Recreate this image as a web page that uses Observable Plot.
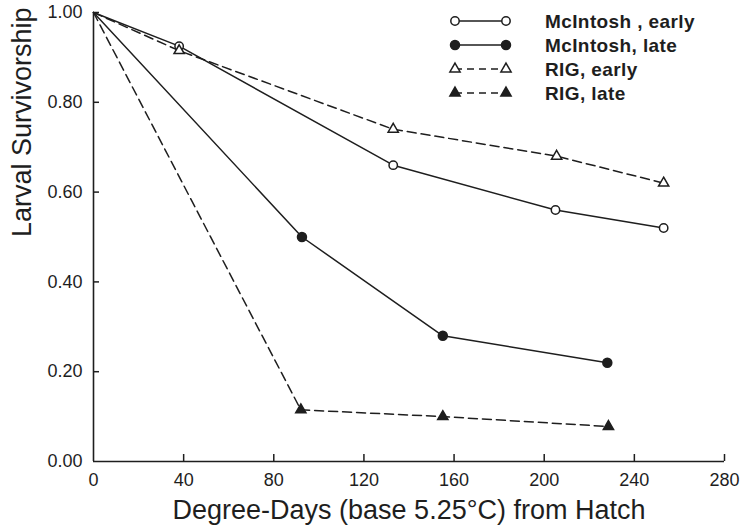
<!DOCTYPE html>
<html><head><meta charset="utf-8">
<script src="https://cdn.jsdelivr.net/npm/d3@7"></script>
<script src="https://cdn.jsdelivr.net/npm/@observablehq/plot@0.6"></script>
<style>
body{margin:0;background:#fff;}
#wrap{position:relative;width:742px;height:530px;}
#wrap svg{position:absolute;left:0;top:0;}
</style></head><body><div id="wrap"></div>
<script>
// ---- data ----
const seriesNames = ["McIntosh , early", "McIntosh, late", "RIG, early", "RIG, late"];
const mcEarlyX = [0, 38, 133, 205, 253];
const mcEarlyY = [1.00, 0.925, 0.66, 0.56, 0.52];
const mcLateX = [0, 92.5, 155, 228];
const mcLateY = [1.00, 0.50, 0.28, 0.22];
const rigEarlyX = [0, 38, 133, 205.5, 253];
const rigEarlyY = [1.00, 0.915, 0.74, 0.68, 0.62];
const rigLateX = [0, 92, 155, 228.5];
const rigLateY = [1.00, 0.115, 0.10, 0.078];
const xTicks = [0, 40, 80, 120, 160, 200, 240, 280];
const yTicks = [0.00, 0.20, 0.40, 0.60, 0.80, 1.00];
const xTitle = "Degree-Days (base 5.25°C) from Hatch";
const yTitle = "Larval Survivorship";

// ---- styles ----
const ink = "#1e1e1e";
const seriesStyle = [
  {symbol: "circle", fill: "white", dash: null, r: 4.2},
  {symbol: "circle", fill: ink, dash: null, r: 4.5},
  {symbol: "triangle", fill: "white", dash: "9,5", r: 3.8},
  {symbol: "triangle", fill: ink, dash: "9,5", r: 3.8}
];
const xs = [mcEarlyX, mcLateX, rigEarlyX, rigLateX];
const ys = [mcEarlyY, mcLateY, rigEarlyY, rigLateY];
const rows = seriesNames.flatMap((s, i) => xs[i].map((x, j) => ({series: s, idx: i, x, y: ys[i][j]})));

const lineMarks = seriesNames.map((s, i) => Plot.line(rows.filter(d => d.idx === i), {
  x: "x", y: "y", stroke: ink, strokeWidth: 1.5,
  strokeDasharray: seriesStyle[i].dash || undefined
}));
const dotMarks = seriesNames.map((s, i) => Plot.dot(rows.filter(d => d.idx === i && d.x > 0), {
  x: "x", y: "y", symbol: seriesStyle[i].symbol, r: seriesStyle[i].r,
  fill: seriesStyle[i].fill, stroke: ink, strokeWidth: 1.5
}));

const chart = Plot.plot({
  width: 742, height: 530,
  marginLeft: 93, marginRight: 18, marginTop: 12, marginBottom: 69,
  style: {fontFamily: "'Liberation Sans', Arial, sans-serif", background: "white", color: ink},
  x: {domain: [0, 280]},
  y: {domain: [0, 1]},
  marks: [
    Plot.ruleX([0], {stroke: ink, strokeWidth: 1.6}),
    Plot.ruleY([0], {stroke: ink, strokeWidth: 1.6}),
    Plot.ruleX(xTicks.filter(d => d > 0), {x: d => d, y1: 0, y2: 0, insetBottom: 7, stroke: ink, strokeWidth: 1.5}),
    Plot.ruleY(yTicks.filter(d => d > 0), {y: d => d, x1: 0, x2: 0, insetRight: -6, stroke: ink, strokeWidth: 1.5}),
    Plot.axisX(xTicks, {tickSize: 0, tickPadding: 12, fontSize: 18, label: null, fill: ink}),
    Plot.axisY(yTicks, {tickSize: 0, tickPadding: 11, fontSize: 18, label: null, tickFormat: d3.format(".2f"), fill: ink}),
    Plot.text([xTitle], {frameAnchor: "bottom", dy: 57, fontSize: 27, fill: ink, text: d => d}),
    Plot.text([yTitle], {frameAnchor: "left", dx: -71, rotate: -90, fontSize: 27, fill: ink, text: d => d}),
    ...lineMarks,
    ...dotMarks
  ]
});
document.getElementById("wrap").appendChild(chart);

// ---- legend (layout overlay) ----
const legendRowY = [21, 45, 69, 93];
const lx1 = 455, lx2 = 506, ltx = 545;
const leg = d3.select("#wrap").append("svg").attr("width", 742).attr("height", 530)
  .style("pointer-events", "none");
seriesNames.forEach((s, i) => {
  const st = seriesStyle[i];
  const y = legendRowY[i];
  leg.append("line").attr("x1", lx1).attr("x2", lx2).attr("y1", y).attr("y2", y)
    .attr("stroke", ink).attr("stroke-width", 1.5)
    .attr("stroke-dasharray", st.dash ? "7,5" : null);
  [lx1, lx2].forEach(x => {
    leg.append("path")
      .attr("d", d3.symbol(st.symbol === "circle" ? d3.symbolCircle : d3.symbolTriangle, Math.PI * st.r * st.r)())
      .attr("transform", `translate(${x},${y})`)
      .attr("fill", st.fill).attr("stroke", ink).attr("stroke-width", 1.5);
  });
  leg.append("text").attr("x", ltx).attr("y", y).attr("dy", "0.35em")
    .attr("font-family", "'Liberation Sans', Arial, sans-serif")
    .attr("font-size", 19).attr("font-weight", "bold").attr("letter-spacing", "0.4px")
    .attr("fill", ink).text(s);
});
</script></body></html>
